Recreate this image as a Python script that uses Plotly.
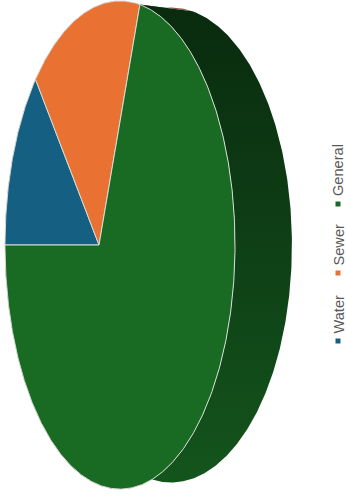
import numpy as np
import plotly.graph_objects as go

# Budget split by fund
categories = ["Water", "Sewer", "General"]
values = [14.0, 16.6, 69.4]
face_colors = ["#156082", "#E97132", "#196B24"]
side_colors = [
    [[0, "#0a2d3d"], [1, "#0f4660"]],
    [[0, "#8a5a45"], [1, "#a85224"]],
    [[0, "#092a0e"], [1, "#14551d"]],
]

WIDTH, HEIGHT = 346, 498
START_DEG = 180.0  # first slice begins at nine o'clock and runs clockwise

# Perspective projection of the tilted disc
CX, CY = 99.0, 245.0
SCALE_X, SCALE_Y = 111.2, 240.0
PERSP = -0.1826
DEPTH_W, DEPTH_X = 0.0269, 51.7


def project(angle_deg, depth=0.0, radius=1.0):
    a = np.radians(angle_deg)
    ux, uy = radius * np.cos(a), radius * np.sin(a)
    w = 1 + PERSP * ux + DEPTH_W * depth
    return CX + (SCALE_X * ux + DEPTH_X * depth) / w, CY - SCALE_Y * uy / w


def arc(a0, a1, depth=0.0):
    n = max(int(abs(a1 - a0) * 2), 2)
    return project(np.linspace(a0, a1, n), depth)


spans = np.array(values) / sum(values) * 360.0
starts = START_DEG - np.concatenate([[0.0], np.cumsum(spans)[:-1]])
ends = starts - spans

fig = go.Figure()

# Extruded rims sit behind the front faces
for i in [0, 1, 2]:
    fx, fy = arc(starts[i], ends[i], 0.0)
    bx, by = arc(ends[i], starts[i], 1.0)
    fig.add_trace(go.Scatter(
        x=np.concatenate([fx, bx]), y=np.concatenate([fy, by]),
        mode="lines", line=dict(width=0), fill="toself",
        fillgradient=dict(type="vertical", colorscale=side_colors[i], start=0, stop=490),
        hoverinfo="skip", showlegend=False,
    ))

# Front faces of the slices
for i in range(3):
    ax, ay = arc(starts[i], ends[i], 0.0)
    cx, cy = project(0.0, 0.0, 0.0)
    fig.add_trace(go.Scatter(
        x=np.concatenate([[cx], ax, [cx]]), y=np.concatenate([[cy], ay, [cy]]),
        mode="lines", line=dict(color="#d8dcd6", width=1), fill="toself",
        fillcolor=face_colors[i], name=categories[i],
        hoverinfo="name", showlegend=False,
    ))

# Legend reads bottom to top along the right edge
legend_x = 338
marker_y = [341, 273, 204]
text_bottom = [334, 265.5, 196]
fig.add_trace(go.Scatter(
    x=[legend_x] * 3, y=marker_y, mode="markers",
    marker=dict(symbol="square", size=5, color=face_colors, line=dict(width=0)),
    hoverinfo="skip", showlegend=False,
))
for name, yb in zip(categories, text_bottom):
    fig.add_annotation(
        x=legend_x, y=yb, text=name, textangle=-90, showarrow=False,
        xanchor="center", yanchor="bottom", xref="x", yref="y",
        font=dict(family="Liberation Sans, Arial, sans-serif", size=14.6, color="#595959"),
        borderpad=0, borderwidth=0,
    )

fig.update_layout(
    width=WIDTH, height=HEIGHT, margin=dict(l=0, r=0, t=0, b=0),
    paper_bgcolor="white", plot_bgcolor="white",
    xaxis=dict(range=[0, WIDTH], visible=False, fixedrange=True),
    yaxis=dict(range=[HEIGHT, 0], visible=False, fixedrange=True),
)
fig.write_html("out.html", config={"displayModeBar": False})
